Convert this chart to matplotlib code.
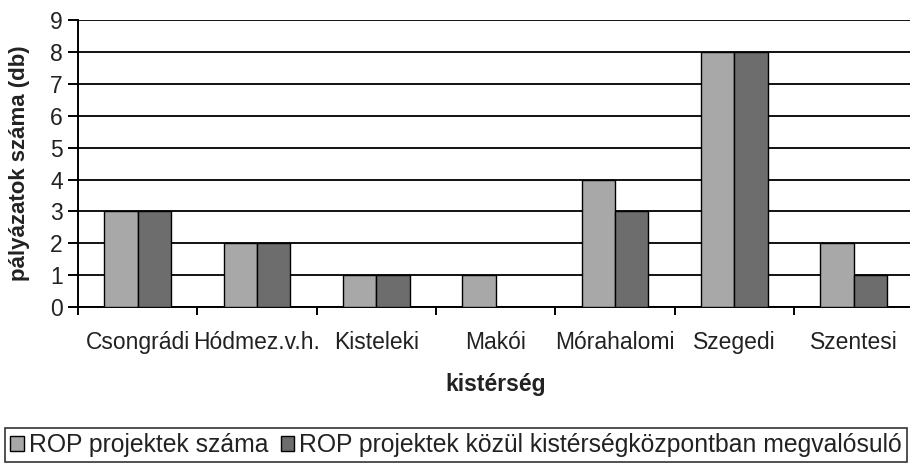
import matplotlib
matplotlib.use("Agg")
import matplotlib.pyplot as plt
import numpy as np
from matplotlib.patches import Patch

plt.rcParams['font.family'] = ['Liberation Sans', 'DejaVu Sans']

categories = ["Csongrádi", "Hódmez.v.h.", "Kisteleki", "Makói", "Mórahalomi", "Szegedi", "Szentesi"]
rop_total = [3, 2, 1, 1, 4, 8, 2]
rop_center = [3, 2, 1, 0, 3, 8, 1]
series_names = ["ROP projektek száma", "ROP projektek közül kistérségközpontban megvalósuló"]
y_ticks = list(range(0, 10))

light = "#a8a8a8"
dark = "#6d6d6d"
text_c = "#222222"

fig = plt.figure(figsize=(9.10, 4.66), dpi=100)
ax = fig.add_axes([0.0857, 0.341, 0.918, 0.616])

x = np.arange(len(categories))
w = 0.28
ax.bar(x - w / 2, rop_total, w, color=light, edgecolor="black", linewidth=1.0, zorder=3)
ax.bar(x + w / 2, rop_center, w, color=dark, edgecolor="black", linewidth=1.0, zorder=3)

ax.set_xlim(-0.5, len(categories) - 0.5)
ax.set_ylim(0, 9)
ax.set_yticks(y_ticks)
ax.yaxis.grid(True, color="#111111", linewidth=1.4, zorder=0)
ax.set_axisbelow(True)

ax.set_xticks(x)
ax.set_xticklabels(categories, fontsize=16.5)
ax.set_xticks(np.arange(-0.5, len(categories), 1.0), minor=True)
ax.tick_params(axis="x", which="major", length=0, pad=17, colors=text_c)
ax.tick_params(axis="x", which="minor", length=6, width=1.4, direction="out", color="black")
ax.tick_params(axis="y", length=7, width=1.4, direction="out", labelsize=16.5, pad=4, colors=text_c)
ax.tick_params(axis="y", color="black")

for s in ["top", "right"]:
    ax.spines[s].set_visible(False)
ax.spines["left"].set_linewidth(1.4)
ax.spines["bottom"].set_linewidth(1.4)

ax.set_xlabel("kistérség", fontsize=16.5, fontweight="bold", labelpad=14, color=text_c)
ax.set_ylabel("pályázatok száma (db)", fontsize=16, fontweight="bold", color=text_c)
ax.yaxis.set_label_coords(-0.057, 0.5)

handles = [Patch(facecolor=light, edgecolor="black", linewidth=1.0),
           Patch(facecolor=dark, edgecolor="black", linewidth=1.0)]
leg = fig.legend(handles, series_names, loc="lower left",
                 bbox_to_anchor=(0.006, 0.008), ncol=2,
                 fontsize=17.8, frameon=True, fancybox=False, edgecolor="black",
                 handlelength=0.55, handleheight=0.55, handletextpad=0.2, columnspacing=0.5,
                 borderpad=0.2, borderaxespad=0)
leg.get_frame().set_linewidth(1.2)
for t in leg.get_texts():
    t.set_color(text_c)

fig.savefig("out.png", dpi=100)
